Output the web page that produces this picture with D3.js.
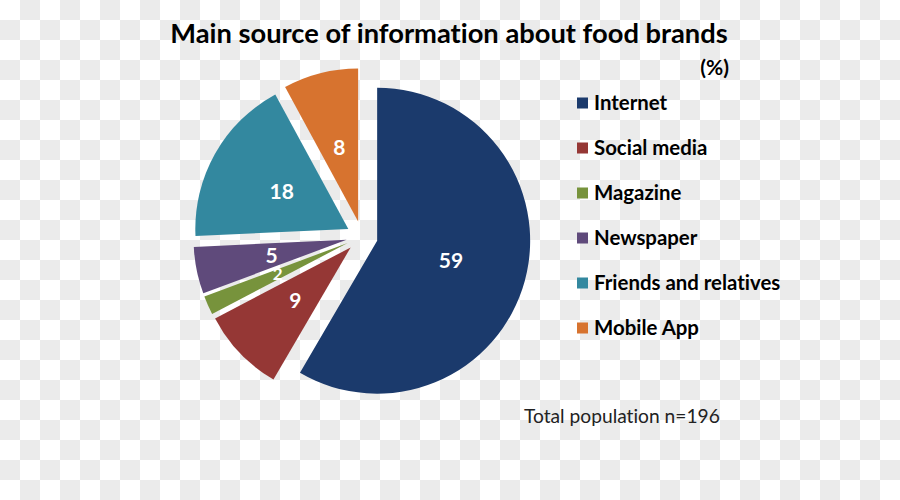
<!DOCTYPE html>
<html>
<head>
<meta charset="utf-8">
<script src="https://cdn.jsdelivr.net/npm/d3@7/dist/d3.min.js"></script>
<style>
  html, body { margin: 0; padding: 0; background: #fff; }
  svg { display: block; }
  text { font-variant-ligatures: none; font-feature-settings: "liga" 0; }
</style>
</head>
<body>
<svg id="chart" width="900" height="500"></svg>
<script>
const categories = ["Internet", "Social media", "Magazine", "Newspaper", "Friends and relatives", "Mobile App"];
const values = [59, 9, 2, 5, 18, 8];
const colors = ["#1b3a6c", "#953735", "#77933c", "#5f4a7b", "#33889f", "#d7732f"];
const titleText = "Main source of information about food brands";
const unitText = "(%)";
const noteText = "Total population n=196";

const svg = d3.select("#chart");
const W = 900, H = 500;

// checkerboard backdrop (transparency grid of the original image)
const defs = svg.append("defs");
const pat = defs.append("pattern").attr("id", "checker")
  .attr("width", 40).attr("height", 40).attr("patternUnits", "userSpaceOnUse");
pat.append("rect").attr("width", 40).attr("height", 40).attr("fill", "#ffffff");
pat.append("rect").attr("x", 20).attr("y", 0).attr("width", 20).attr("height", 20).attr("fill", "#ebebeb");
pat.append("rect").attr("x", 0).attr("y", 20).attr("width", 20).attr("height", 20).attr("fill", "#ebebeb");
svg.append("rect").attr("width", W).attr("height", H).attr("fill", "url(#checker)");

const font = "Lato, 'Open Sans', sans-serif";

// title
svg.append("text").attr("x", 449).attr("y", 43).attr("text-anchor", "middle")
  .attr("font-family", font).attr("font-weight", 700).attr("font-size", 27.3)
  .attr("fill", "#000").text(titleText);
svg.append("text").attr("x", 729).attr("y", 75).attr("text-anchor", "end")
  .attr("font-family", font).attr("font-weight", 700).attr("font-size", 21)
  .attr("fill", "#000").text(unitText);

// pie
const cx = 362, cy = 236.6, r = 153, explode = 15.7;
const data = categories.map((c, i) => ({ name: c, value: values[i], color: colors[i] }));
const pie = d3.pie().value(d => d.value).sort(null).startAngle(0).endAngle(2 * Math.PI);
const arcs = pie(data);
const arc = d3.arc().innerRadius(0).outerRadius(r);

const g = svg.append("g").attr("transform", `translate(${cx},${cy})`);
const slices = g.selectAll("g.slice").data(arcs).enter().append("g")
  .attr("class", "slice")
  .attr("transform", d => {
    const m = (d.startAngle + d.endAngle) / 2;
    return `translate(${Math.sin(m) * explode},${-Math.cos(m) * explode})`;
  });
slices.append("path").attr("d", arc).attr("fill", d => d.data.color);

slices.append("text")
  .attr("transform", d => {
    const m = (d.startAngle + d.endAngle) / 2;
    const k = r * 0.5;
    return `translate(${Math.sin(m) * k},${-Math.cos(m) * k})`;
  })
  .attr("text-anchor", "middle").attr("dy", "0.36em")
  .attr("font-family", font).attr("font-weight", 700)
  .attr("font-size", d => d.data.value < 3 ? 17 : 21)
  .attr("fill", "#fff").text(d => d.data.value);

// legend
const legend = svg.append("g").attr("transform", "translate(577,103)");
const rows = legend.selectAll("g").data(data).enter().append("g")
  .attr("transform", (d, i) => `translate(0,${i * 45})`);
rows.append("rect").attr("x", 0).attr("y", -5.5).attr("width", 11).attr("height", 11)
  .attr("fill", d => d.color);
rows.append("text").attr("x", 17).attr("y", 0).attr("dy", "0.36em")
  .attr("font-family", font).attr("font-weight", 700).attr("font-size", 20.4)
  .attr("fill", "#000").text(d => d.name);

// note
svg.append("text").attr("x", 524).attr("y", 423)
  .attr("font-family", font).attr("font-weight", 400).attr("font-size", 19.2)
  .attr("fill", "#222").text(noteText);
</script>
</body>
</html>
